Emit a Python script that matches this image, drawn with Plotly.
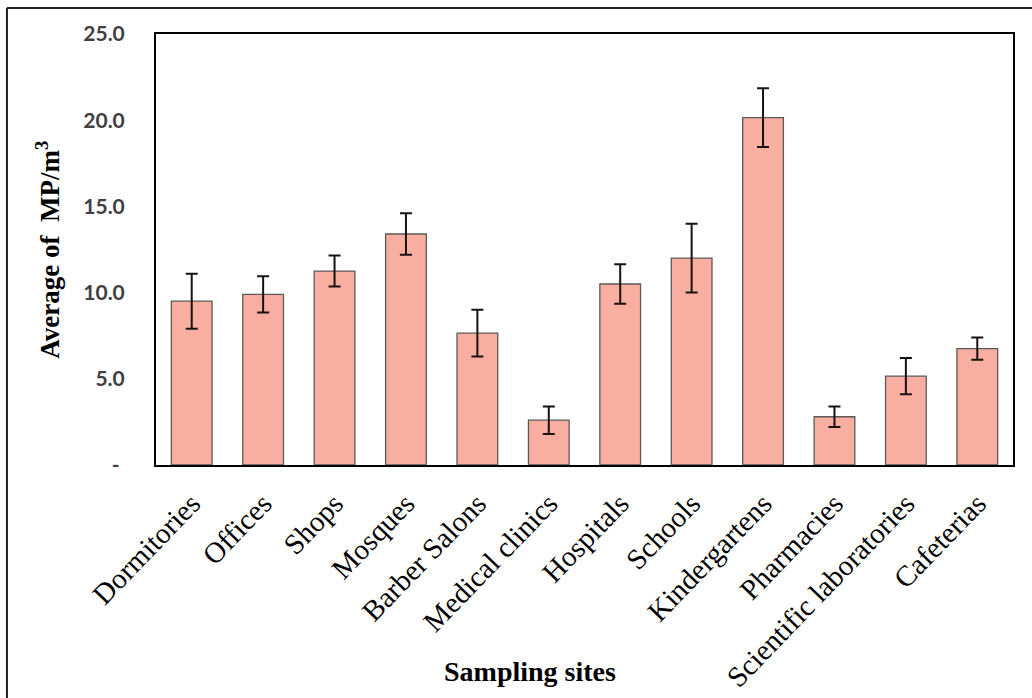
import plotly.graph_objects as go

# Sampling sites and mean microplastic concentration (MP/m³) with error
sites = ["Dormitories", "Offices", "Shops", "Mosques", "Barber Salons",
         "Medical clinics", "Hospitals", "Schools", "Kindergartens",
         "Pharmacies", "Scientific laboratories", "Cafeterias"]
mean_mp = [9.5, 9.9, 11.25, 13.4, 7.65, 2.6, 10.5, 12.0, 20.15, 2.8, 5.15, 6.75]
err_mp = [1.6, 1.05, 0.9, 1.2, 1.35, 0.8, 1.15, 2.0, 1.7, 0.6, 1.05, 0.65]

y_ticks = [0, 5, 10, 15, 20, 25]
y_tick_text = ["-\u00a0", "5.0", "10.0", "15.0", "20.0", "25.0"]

fig = go.Figure(
    go.Bar(
        x=sites,
        y=mean_mp,
        width=0.57,
        marker=dict(color="#F8AEA0", line=dict(color="#5a5a5a", width=1.3)),
        error_y=dict(type="data", array=err_mp, visible=True,
                     color="#1a1010", thickness=2, width=6),
    )
)

fig.update_layout(
    width=1032,
    height=698,
    margin=dict(l=156, r=19, t=34, b=233),
    paper_bgcolor="white",
    plot_bgcolor="white",
    showlegend=False,
    xaxis=dict(
        showline=True, linecolor="black", linewidth=2, mirror=True,
        tickangle=-46, ticks="", ticklabelstandoff=8, automargin=False,
        tickfont=dict(family="Liberation Serif", size=29, color="black"),
        showgrid=False,
    ),
    yaxis=dict(
        range=[0, 25], tickvals=y_ticks, ticktext=y_tick_text,
        showline=True, linecolor="black", linewidth=2, mirror=True,
        ticks="", ticklabelstandoff=25, showgrid=False, zeroline=False,
        automargin=False,
        tickfont=dict(family="Lato", size=21, color="#404040", weight="bold"),
    ),
    annotations=[
        dict(text="<b>Average of  MP/m<sup>3</sup></b>", xref="paper", yref="paper",
             x=-0.127, y=0.5, xanchor="center", yanchor="middle", textangle=-90,
             showarrow=False, font=dict(family="Liberation Serif", size=27, color="black")),
        dict(text="<b>Sampling sites</b>", xref="paper", yref="paper",
             x=0.436, y=-0.48, xanchor="center", yanchor="middle",
             showarrow=False, font=dict(family="Liberation Serif", size=28, color="black")),
    ],
    shapes=[
        # frame around the whole chart (left and top edges visible)
        dict(type="line", xref="paper", yref="paper", x0=-0.1739, x1=1.03,
             y0=1.0604, y1=1.0604, line=dict(color="#222222", width=2)),
        dict(type="line", xref="paper", yref="paper", x0=-0.1739, x1=-0.1739,
             y0=1.0604, y1=-0.55, line=dict(color="#222222", width=2)),
    ],
)

fig.write_html("out.html")
